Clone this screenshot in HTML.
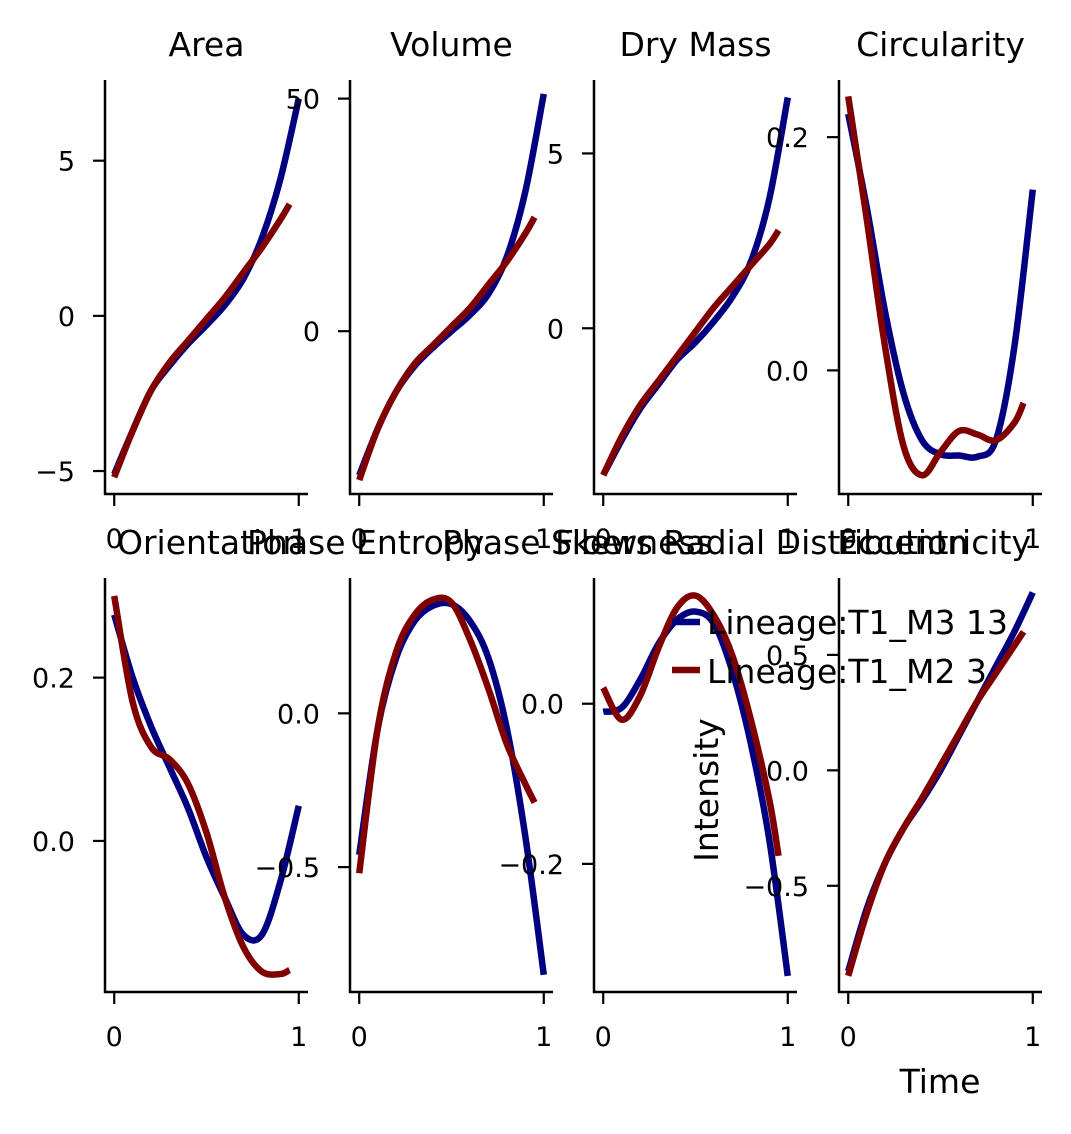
<!DOCTYPE html>
<html><head><meta charset="utf-8"><style>
body{margin:0;background:#fff;}
svg text{font-family:"DejaVu Sans","Liberation Sans",sans-serif;}
</style></head><body>
<svg id="chart" width="1071" height="1129" xmlns="http://www.w3.org/2000/svg"></svg>
<script>
const panelTitles=["Area","Volume","Dry Mass","Circularity"];
const row2Titles=["Orientation","Phase Entropy","Phase Skewness","Fibers Radial Distribution","Eccentricity"];
const xBlue=[0,0.1,0.2,0.3,0.4,0.5,0.6,0.7,0.8,0.9,1.0];
const xRed=[0,0.1,0.2,0.3,0.4,0.5,0.6,0.7,0.8,0.9,0.95];
const blueArea=[-5.1,-3.7,-2.4,-1.6,-0.9,-0.3,0.35,1.2,2.5,4.4,7.0];
const redArea=[-5.2,-3.7,-2.4,-1.5,-0.8,-0.1,0.6,1.4,2.2,3.1,3.6];
const blueVolume=[-31,-21,-13,-7.5,-3.5,0,3.5,8,16,30,51];
const redVolume=[-32,-21,-13,-7,-3,1,5,10,15,21,24.5];
const blueDry=[-4.2,-3.2,-2.3,-1.6,-0.9,-0.4,0.2,0.9,1.9,3.7,6.6];
const redDry=[-4.2,-3.1,-2.2,-1.5,-0.8,-0.1,0.6,1.2,1.8,2.4,2.8];
const blueCirc=[0.22,0.14,0.05,-0.02,-0.06,-0.072,-0.073,-0.074,-0.06,0.02,0.155];
const redCirc=[0.235,0.13,0.02,-0.065,-0.09,-0.07,-0.052,-0.055,-0.06,-0.045,-0.028];
const blueOrient=[0.277,0.2,0.14,0.09,0.04,-0.02,-0.07,-0.115,-0.115,-0.05,0.043];
const redOrient=[0.3,0.17,0.115,0.1,0.07,0.01,-0.07,-0.13,-0.16,-0.163,-0.158];
const blueEnt=[-0.46,-0.05,0.18,0.3,0.35,0.355,0.3,0.18,-0.05,-0.4,-0.85];
const redEnt=[-0.52,-0.05,0.2,0.32,0.37,0.36,0.24,0.08,-0.1,-0.23,-0.29];
const blueSkew=[-0.01,-0.005,0.03,0.075,0.105,0.115,0.1,0.04,-0.05,-0.17,-0.34];
const redSkew=[0.02,-0.02,0.01,0.07,0.12,0.135,0.11,0.06,-0.02,-0.12,-0.19];
const blueEcc=[-0.87,-0.6,-0.4,-0.25,-0.13,0.0,0.15,0.3,0.45,0.6,0.77];
const redEcc=[-0.89,-0.62,-0.4,-0.25,-0.12,0.02,0.16,0.3,0.42,0.54,0.6];
const yTicks=[[5,0,-5],[50,0],[5,0],[0.2,0.0],[0.2,0.0],[0.0,-0.5],[0.0,-0.2],[0.5,0.0,-0.5]];
const yTickLabels=[["5","0","−5"],["50","0"],["5","0"],["0.2","0.0"],["0.2","0.0"],["0.0","−0.5"],["0.0","−0.2"],["0.5","0.0","−0.5"]];
const yRanges=[[-5.74,7.6],[-35,54],[-4.74,7.1],[-0.106,0.249],[-0.185,0.322],[-0.906,0.44],[-0.36,0.157],[-0.96,0.833]];
const blues=[blueArea,blueVolume,blueDry,blueCirc,blueOrient,blueEnt,blueSkew,blueEcc];
const reds=[redArea,redVolume,redDry,redCirc,redOrient,redEnt,redSkew,redEcc];
const xTicks=[0,1];
const NS="http://www.w3.org/2000/svg";
const svg=document.getElementById('chart');
function mk(t,a,p){const e=document.createElementNS(NS,t);for(const k in a)e.setAttribute(k,a[k]);(p||svg).appendChild(e);return e;}
const colX=[105,350,594,839], W=203, rowY=[80,578], H=414;
function path(xs,ys,sx,sy){const P=xs.map((x,i)=>[sx(x),sy(ys[i])]);let d=`M${P[0][0]},${P[0][1]}`;
 for(let i=0;i<P.length-1;i++){const p0=P[Math.max(0,i-1)],p1=P[i],p2=P[i+1],p3=P[Math.min(P.length-1,i+2)];
 d+=` C${p1[0]+(p2[0]-p0[0])/6},${p1[1]+(p2[1]-p0[1])/6} ${p2[0]-(p3[0]-p1[0])/6},${p2[1]-(p3[1]-p1[1])/6} ${p2[0]},${p2[1]}`;}return d;}
for(let i=0;i<8;i++){
 const x0=colX[i%4], y0=rowY[Math.floor(i/4)];
 const g=mk('g',{});
 
 
 const sx=v=>x0+W*(v+0.05)/1.1;
 const [lo,hi]=yRanges[i];
 const sy=v=>y0+H*(hi-v)/(hi-lo);
 const bl=mk('path',{d:path(xBlue,blues[i],sx,sy),fill:'none',stroke:'#000080','stroke-width':6.5},g);
 
 
 const rl=mk('path',{d:path(xRed,reds[i],sx,sy),fill:'none',stroke:'#800000','stroke-width':6.5},g);
 
 
 mk('line',{x1:x0,y1:y0,x2:x0,y2:y0+H+1,stroke:'#000','stroke-width':2.5},g);
 mk('line',{x1:x0-1,y1:y0+H,x2:x0+W,y2:y0+H,stroke:'#000','stroke-width':2.5},g);
 yTicks[i].forEach((v,j)=>{const y=sy(v);mk('line',{x1:x0-12,y1:y,x2:x0,y2:y,stroke:'#000','stroke-width':2.2},g);
  const t=mk('text',{x:x0-30,y:y+10,'text-anchor':'end','font-size':27},g);t.textContent=yTickLabels[i][j];
  
  });
 xTicks.forEach(v=>{const x=sx(v);mk('line',{x1:x,y1:y0+H,x2:x,y2:y0+H+12,stroke:'#000','stroke-width':2.2},g);
  const t=mk('text',{x:x,y:y0+H+54,'text-anchor':'middle','font-size':27},g);t.textContent=String(v);
  
  });
 if(i<4){
  const tt=mk('text',{x:x0+W/2,y:y0-24,'text-anchor':'middle','font-size':33},g);
  tt.textContent=panelTitles[i];
  
  
 }
}
const r2x=[117,247,442,555,1031];
row2Titles.forEach((s,k)=>{
 const t=mk('text',{x:r2x[k],y:554,'text-anchor':k===4?'end':'start','font-size':33});
 t.textContent=s;
 
 
});
// legend
const lg=mk('g',{});


mk('line',{x1:672,y1:622,x2:700,y2:622,stroke:'#000080','stroke-width':6.5},lg);
mk('line',{x1:672,y1:670,x2:700,y2:670,stroke:'#800000','stroke-width':6.5},lg);
const l1=mk('text',{x:707,y:634,'font-size':33},lg);l1.textContent="Lineage:T1_M3 13";
const l2=mk('text',{x:707,y:683,'font-size':33},lg);l2.textContent="Lineage:T1_M2 3";
const yl=mk('text',{x:0,y:0,'font-size':33,'text-anchor':'middle',transform:'translate(718,790) rotate(-90)'});yl.textContent="Intensity";


const xl=mk('text',{x:940,y:1093,'font-size':33,'text-anchor':'middle'});xl.textContent="Time";


</script>
</body></html>
